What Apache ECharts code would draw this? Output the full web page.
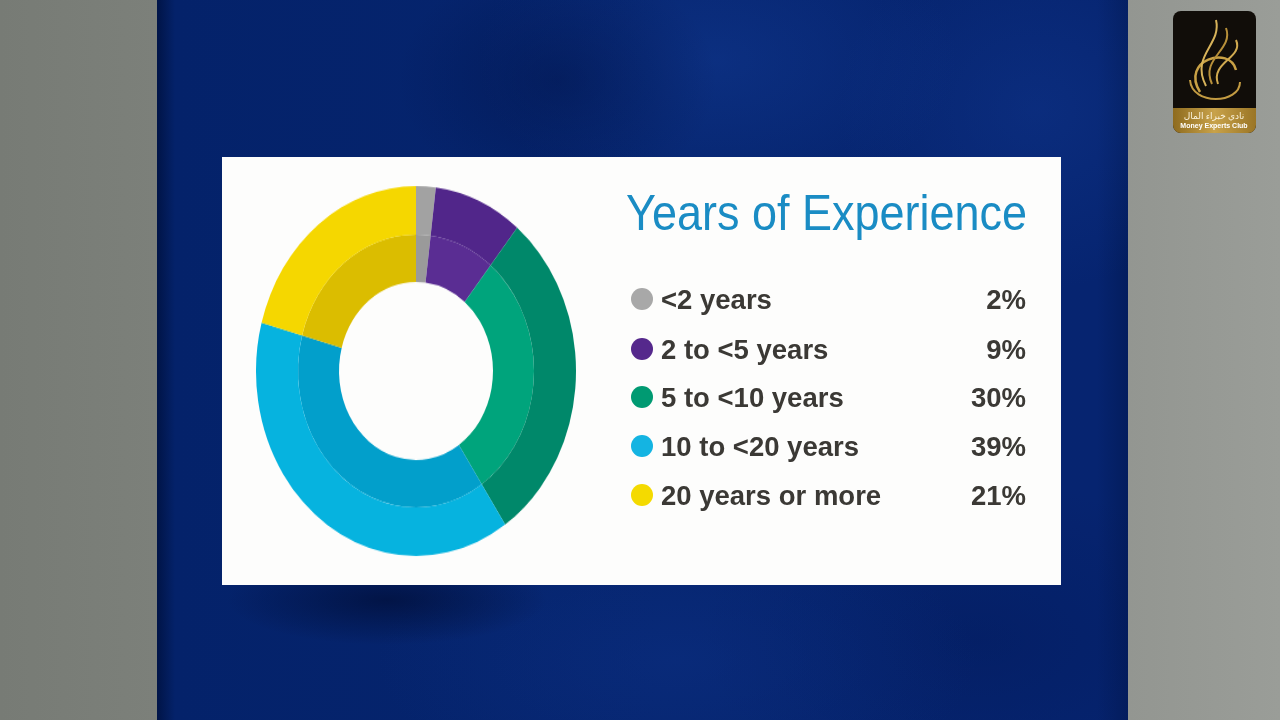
<!DOCTYPE html>
<html>
<head>
<meta charset="utf-8">
<script src="https://cdn.jsdelivr.net/npm/echarts@6/dist/echarts.min.js"></script>
<style>
  html, body { margin: 0; padding: 0; width: 1280px; height: 720px; overflow: hidden; }
  body {
    background: linear-gradient(90deg, #777b75 0, #7c807a 157px, transparent 157px, transparent 1128px, #939691 1128px, #9a9d98 1280px),
                linear-gradient(180deg, #8f928d 0, #a3a5a1 720px);
  }
  .stage {
    position: absolute; left: 157px; top: 0; width: 971px; height: 720px;
    background:
      radial-gradient(ellipse 160px 120px at 400px 80px, rgba(0,18,70,0.45), transparent),
      radial-gradient(ellipse 240px 150px at 560px 60px, rgba(22,66,160,0.35), transparent),
      radial-gradient(ellipse 200px 180px at 880px 110px, rgba(20,60,150,0.35), transparent),
      radial-gradient(ellipse 160px 45px at 230px 600px, rgba(0,12,50,0.65), transparent),
      radial-gradient(ellipse 300px 140px at 520px 660px, rgba(14,52,140,0.35), transparent),
      radial-gradient(ellipse 280px 160px at 820px 640px, rgba(0,20,80,0.3), transparent),
      linear-gradient(90deg, #001447 0, #04226a 18px, #06256f 500px, #062470 940px, #031d5e 971px);
  }
  #main { position: absolute; left: 0; top: 0; width: 1280px; height: 720px; }
  #donut {
    position: absolute; left: 246px; top: 201px; width: 340px; height: 340px;
    transform: scaleY(1.156); transform-origin: 50% 50%;
  }
</style>
</head>
<body>
<div class="stage"></div>
<div id="main"></div>
<div id="donut"></div>
<script>
// data
const categories = ['<2 years', '2 to <5 years', '5 to <10 years', '10 to <20 years', '20 years or more'];
const shares = [2, 9, 30, 39, 21];
const outerColors = ['#a2a2a2', '#51268a', '#00886a', '#06b3df', '#f5d700'];
const innerColors = ['#9a9a9a', '#5a2d93', '#00a47c', '#029fcb', '#dbbd00'];
const dotColors = ['#a8a8a8', '#55288c', '#009a72', '#14b4e2', '#f4da00'];
const titleText = 'Years of Experience';

// donut, drawn in its own box that is stretched vertically
const donut = echarts.init(document.getElementById('donut'));
function ring(radius, colors) {
  return {
    type: 'pie',
    radius: radius,
    center: ['50%', '50%'],
    startAngle: 90,
    clockwise: true,
    silent: true,
    label: { show: false },
    labelLine: { show: false },
    itemStyle: { borderWidth: 0 },
    data: categories.map((c, i) => ({ name: c, value: shares[i], itemStyle: { color: colors[i] } }))
  };
}
donut.setOption({
  animation: false,
  series: [ring([77, 118], innerColors), ring([118, 160], outerColors)]
});

// card, title, legend and logo
const main = echarts.init(document.getElementById('main'));
const labelFont = 'bold 27.5px "Liberation Sans", Arial, sans-serif';
const rowY = [299, 349, 397, 446, 495];

const legendEls = [];
categories.forEach((c, i) => {
  legendEls.push({
    type: 'circle', shape: { cx: 642, cy: rowY[i], r: 11 }, style: { fill: dotColors[i] }
  });
  legendEls.push({
    type: 'text', x: 661, y: rowY[i] + 2,
    style: { text: c, font: labelFont, fill: '#3b3935', textAlign: 'left', textVerticalAlign: 'middle', align: 'left', verticalAlign: 'middle' }
  });
  legendEls.push({
    type: 'text', x: 1026, y: rowY[i] + 2,
    style: { text: shares[i] + '%', font: labelFont, fill: '#3b3935', textAlign: 'right', textVerticalAlign: 'middle', align: 'right', verticalAlign: 'middle' }
  });
});

const logoEls = [
  { type: 'rect', shape: { x: 1173, y: 11, width: 83, height: 122, r: 8 }, style: { fill: '#110d09' } },
  {
    type: 'rect', shape: { x: 1173, y: 108, width: 83, height: 25, r: [0, 0, 8, 8] },
    style: {
      fill: new echarts.graphic.LinearGradient(0, 0, 1, 0, [
        { offset: 0, color: '#8e6b1f' }, { offset: 0.5, color: '#c8a24a' }, { offset: 1, color: '#9a7526' }
      ])
    }
  },
  { type: 'bezierCurve', shape: { x1: 1200, y1: 92, x2: 1236, y2: 70, cpx1: 1180, cpy1: 60, cpx2: 1230, cpy2: 45 }, style: { stroke: '#c9a145', lineWidth: 2.5, fill: null } },
  { type: 'bezierCurve', shape: { x1: 1206, y1: 86, x2: 1216, y2: 20, cpx1: 1190, cpy1: 55, cpx2: 1222, cpy2: 45 }, style: { stroke: '#d8b35a', lineWidth: 2, fill: null } },
  { type: 'bezierCurve', shape: { x1: 1212, y1: 84, x2: 1226, y2: 28, cpx1: 1200, cpy1: 58, cpx2: 1234, cpy2: 50 }, style: { stroke: '#b8903a', lineWidth: 2, fill: null } },
  { type: 'bezierCurve', shape: { x1: 1218, y1: 84, x2: 1236, y2: 40, cpx1: 1210, cpy1: 62, cpx2: 1244, cpy2: 58 }, style: { stroke: '#d1aa50', lineWidth: 2, fill: null } },
  { type: 'bezierCurve', shape: { x1: 1190, y1: 80, x2: 1240, y2: 82, cpx1: 1192, cpy1: 106, cpx2: 1240, cpy2: 104 }, style: { stroke: '#c39b42', lineWidth: 2, fill: null } },
  {
    type: 'text', x: 1214, y: 116,
    style: { text: 'نادي خبراء المال', font: '9px "Noto Sans", "DejaVu Sans", sans-serif', fill: '#fbf3dc', textAlign: 'center', textVerticalAlign: 'middle', align: 'center', verticalAlign: 'middle' }
  },
  {
    type: 'text', x: 1214, y: 126,
    style: { text: 'Money Experts Club', font: 'bold 7px "Liberation Sans", Arial, sans-serif', fill: '#ffffff', textAlign: 'center', textVerticalAlign: 'middle', align: 'center', verticalAlign: 'middle' }
  }
];

main.setOption({
  animation: false,
  backgroundColor: 'transparent',
  graphic: {
    elements: [
      { type: 'rect', shape: { x: 222, y: 157, width: 839, height: 428 }, style: { fill: '#fdfdfc' } },
      {
        type: 'text', x: 626, y: 216, scaleY: 1.12,
        style: {
          text: titleText, font: '45px "Liberation Sans", Arial, sans-serif', fill: '#1a8cc4',
          textAlign: 'left', textVerticalAlign: 'middle', align: 'left', verticalAlign: 'middle'
        }
      }
    ].concat(legendEls, logoEls)
  }
});
</script>
</body>
</html>
